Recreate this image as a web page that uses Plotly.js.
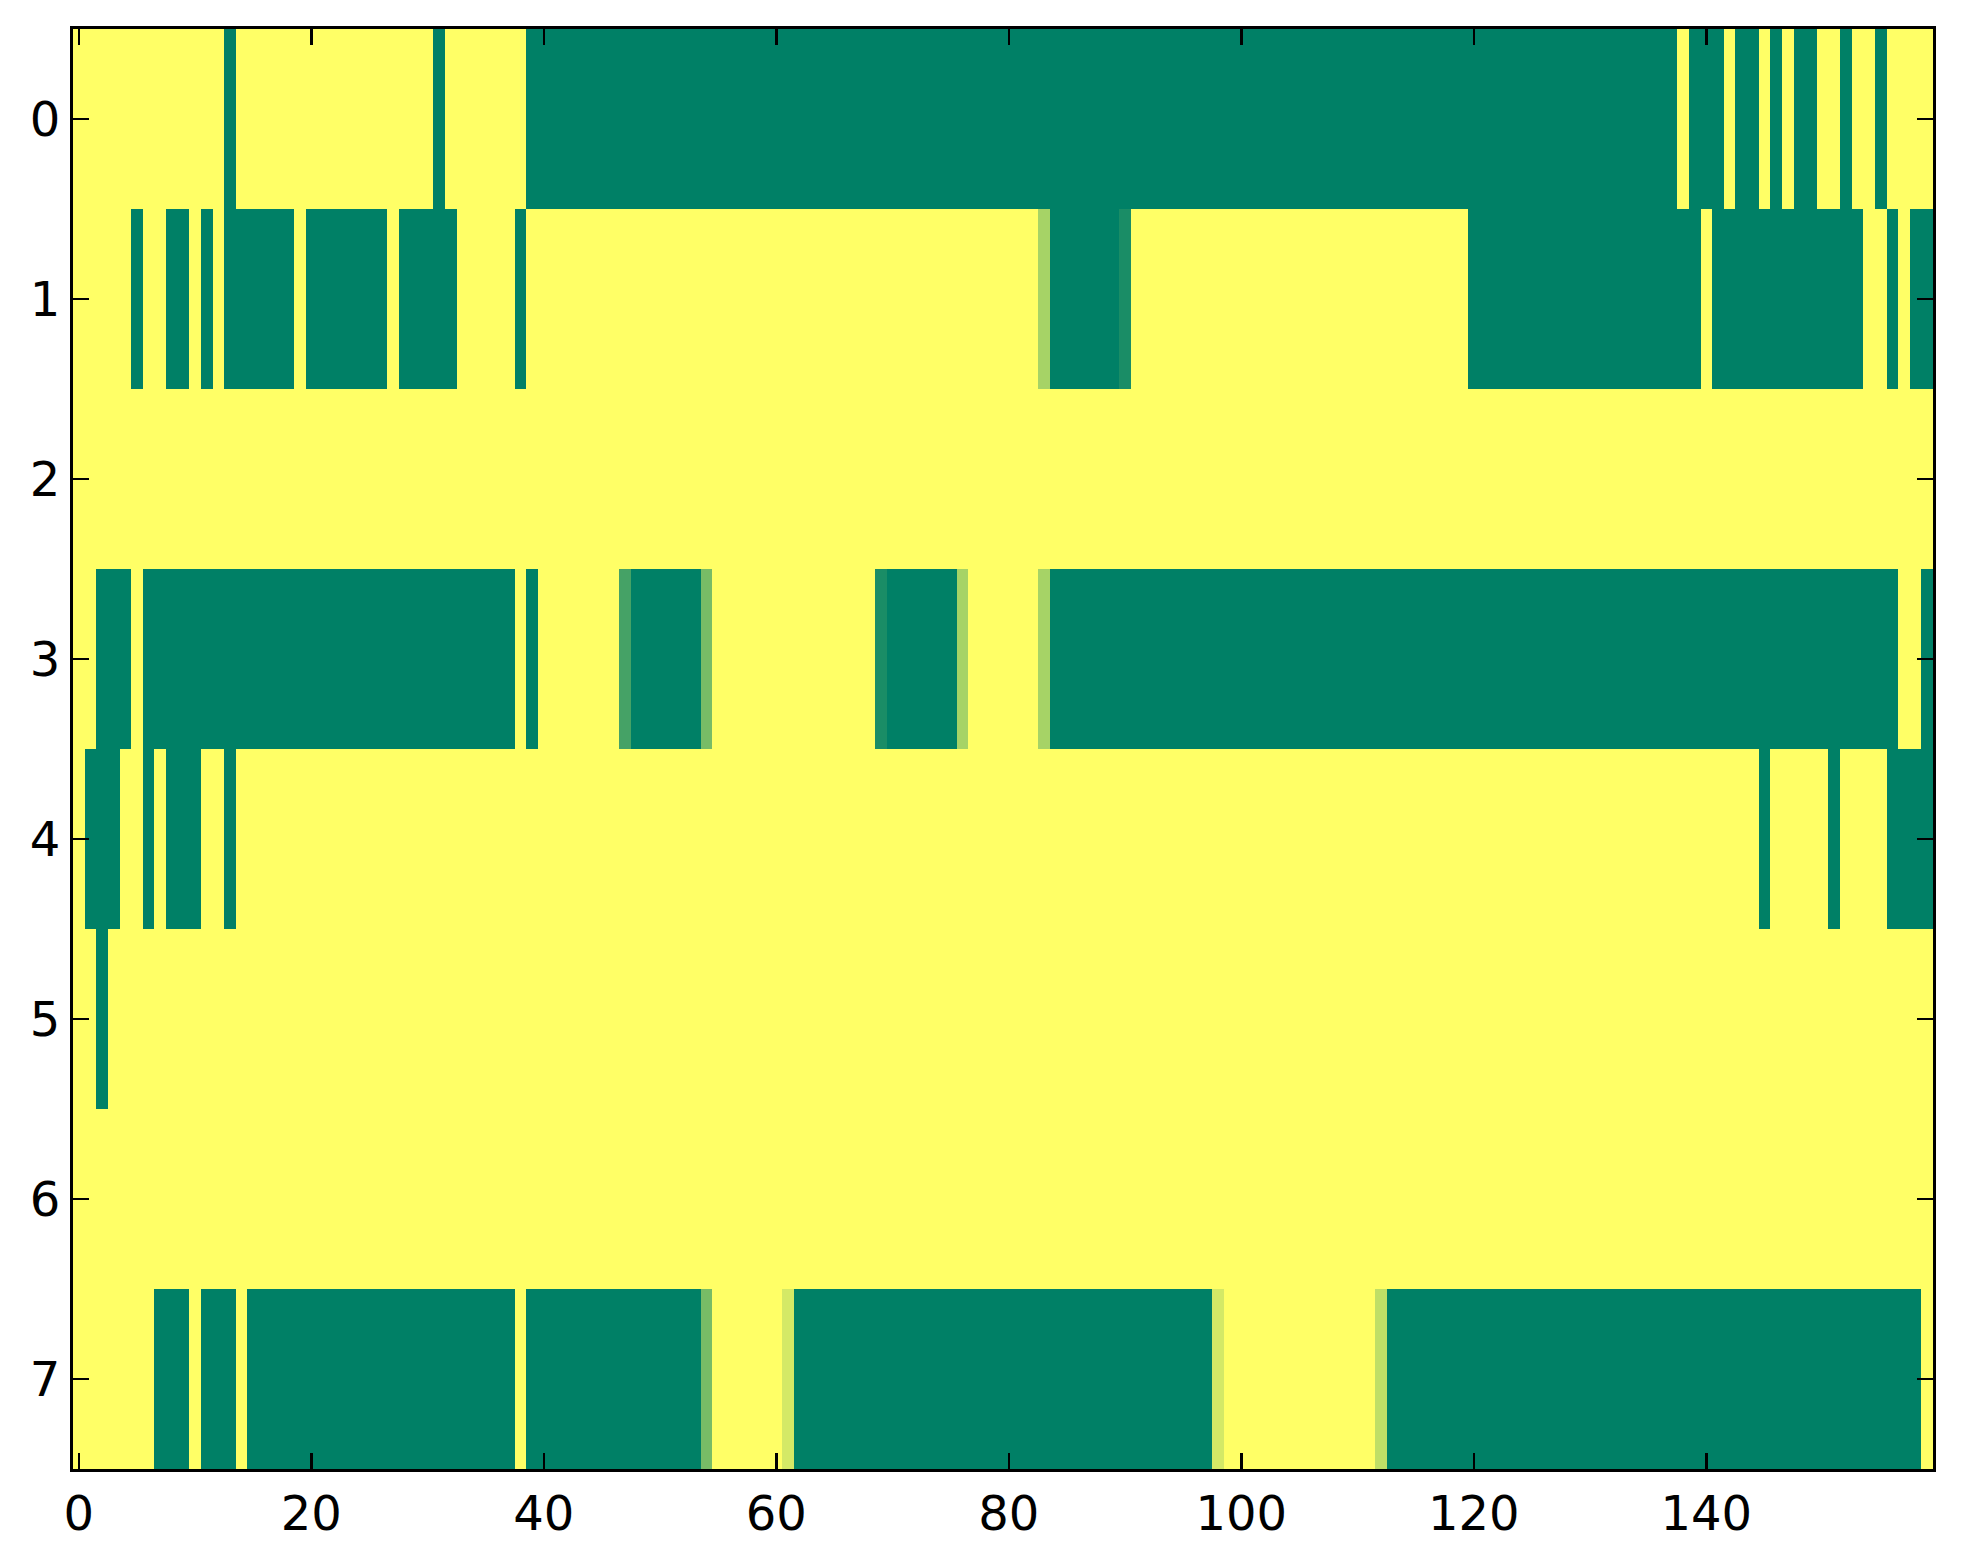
<!DOCTYPE html>
<html>
<head>
<meta charset="utf-8">
<script src="https://cdn.plot.ly/plotly-3.0.1.min.js"></script>
<style>
html,body{margin:0;padding:0;background:#fff;}
#chart{width:1963px;height:1564px;}
</style>
</head>
<body>
<div id="chart"></div>
<script>
// Row labels (y) and x tick labels
var rowLabels = [0, 1, 2, 3, 4, 5, 6, 7];
var xTickVals = [0, 20, 40, 60, 80, 100, 120, 140];

// Values per row (0 = green, 1 = yellow), 160 columns each
var row0 = [
  1,1,1,1,1,1,1,1,1,1, 1,1,1,0,1,1,1,1,1,1, 1,1,1,1,1,1,1,1,1,1, 1,0,1,1,1,1,1,1,1,0,
  0,0,0,0,0,0,0,0,0,0, 0,0,0,0,0,0,0,0,0,0, 0,0,0,0,0,0,0,0,0,0, 0,0,0,0,0,0,0,0,0,0,
  0,0,0,0,0,0,0,0,0,0, 0,0,0,0,0,0,0,0,0,0, 0,0,0,0,0,0,0,0,0,0, 0,0,0,0,0,0,0,0,0,0,
  0,0,0,0,0,0,0,0,0,0, 0,0,0,0,0,0,0,0,1,0, 0,0,1,0,0,1,0,1,0,0, 1,1,0,1,1,0,1,1,1,1
];
var row1 = [
  1,1,1,1,1,0,1,1,0,0, 1,0,1,0,0,0,0,0,0,1, 0,0,0,0,0,0,0,1,0,0, 0,0,0,1,1,1,1,1,0,1,
  1,1,1,1,1,1,1,1,1,1, 1,1,1,1,1,1,1,1,1,1, 1,1,1,1,1,1,1,1,1,1, 1,1,1,1,1,1,1,1,1,1,
  1,1,1,0.65,0,0,0,0,0,0, 0.1,1,1,1,1,1,1,1,1,1, 1,1,1,1,1,1,1,1,1,1, 1,1,1,1,1,1,1,1,1,1,
  0,0,0,0,0,0,0,0,0,0, 0,0,0,0,0,0,0,0,0,0, 1,0,0,0,0,0,0,0,0,0, 0,0,0,0,1,1,0,1,0,0
];
var row2 = [
  1,1,1,1,1,1,1,1,1,1, 1,1,1,1,1,1,1,1,1,1, 1,1,1,1,1,1,1,1,1,1, 1,1,1,1,1,1,1,1,1,1,
  1,1,1,1,1,1,1,1,1,1, 1,1,1,1,1,1,1,1,1,1, 1,1,1,1,1,1,1,1,1,1, 1,1,1,1,1,1,1,1,1,1,
  1,1,1,1,1,1,1,1,1,1, 1,1,1,1,1,1,1,1,1,1, 1,1,1,1,1,1,1,1,1,1, 1,1,1,1,1,1,1,1,1,1,
  1,1,1,1,1,1,1,1,1,1, 1,1,1,1,1,1,1,1,1,1, 1,1,1,1,1,1,1,1,1,1, 1,1,1,1,1,1,1,1,1,1
];
var row3 = [
  1,1,0,0,0,1,0,0,0,0, 0,0,0,0,0,0,0,0,0,0, 0,0,0,0,0,0,0,0,0,0, 0,0,0,0,0,0,0,0,1,0,
  1,1,1,1,1,1,1,0.27,0,0, 0,0,0,0,0.47,1,1,1,1,1, 1,1,1,1,1,1,1,1,1,0.1, 0,0,0,0,0,0,0.65,1,1,1,
  1,1,1,0.65,0,0,0,0,0,0, 0,0,0,0,0,0,0,0,0,0, 0,0,0,0,0,0,0,0,0,0, 0,0,0,0,0,0,0,0,0,0,
  0,0,0,0,0,0,0,0,0,0, 0,0,0,0,0,0,0,0,0,0, 0,0,0,0,0,0,0,0,0,0, 0,0,0,0,0,0,0,1,1,0
];
var row4 = [
  1,0,0,0,1,1,0,1,0,0, 0,1,1,0,1,1,1,1,1,1, 1,1,1,1,1,1,1,1,1,1, 1,1,1,1,1,1,1,1,1,1,
  1,1,1,1,1,1,1,1,1,1, 1,1,1,1,1,1,1,1,1,1, 1,1,1,1,1,1,1,1,1,1, 1,1,1,1,1,1,1,1,1,1,
  1,1,1,1,1,1,1,1,1,1, 1,1,1,1,1,1,1,1,1,1, 1,1,1,1,1,1,1,1,1,1, 1,1,1,1,1,1,1,1,1,1,
  1,1,1,1,1,1,1,1,1,1, 1,1,1,1,1,1,1,1,1,1, 1,1,1,1,1,0,1,1,1,1, 1,0,1,1,1,1,0,0,0,0
];
var row5 = [
  1,1,0,1,1,1,1,1,1,1, 1,1,1,1,1,1,1,1,1,1, 1,1,1,1,1,1,1,1,1,1, 1,1,1,1,1,1,1,1,1,1,
  1,1,1,1,1,1,1,1,1,1, 1,1,1,1,1,1,1,1,1,1, 1,1,1,1,1,1,1,1,1,1, 1,1,1,1,1,1,1,1,1,1,
  1,1,1,1,1,1,1,1,1,1, 1,1,1,1,1,1,1,1,1,1, 1,1,1,1,1,1,1,1,1,1, 1,1,1,1,1,1,1,1,1,1,
  1,1,1,1,1,1,1,1,1,1, 1,1,1,1,1,1,1,1,1,1, 1,1,1,1,1,1,1,1,1,1, 1,1,1,1,1,1,1,1,1,1
];
var row6 = [
  1,1,1,1,1,1,1,1,1,1, 1,1,1,1,1,1,1,1,1,1, 1,1,1,1,1,1,1,1,1,1, 1,1,1,1,1,1,1,1,1,1,
  1,1,1,1,1,1,1,1,1,1, 1,1,1,1,1,1,1,1,1,1, 1,1,1,1,1,1,1,1,1,1, 1,1,1,1,1,1,1,1,1,1,
  1,1,1,1,1,1,1,1,1,1, 1,1,1,1,1,1,1,1,1,1, 1,1,1,1,1,1,1,1,1,1, 1,1,1,1,1,1,1,1,1,1,
  1,1,1,1,1,1,1,1,1,1, 1,1,1,1,1,1,1,1,1,1, 1,1,1,1,1,1,1,1,1,1, 1,1,1,1,1,1,1,1,1,1
];
var row7 = [
  1,1,1,1,1,1,1,0,0,0, 1,0,0,0,1,0,0,0,0,0, 0,0,0,0,0,0,0,0,0,0, 0,0,0,0,0,0,0,0,1,0,
  0,0,0,0,0,0,0,0,0,0, 0,0,0,0,0.47,1,1,1,1,1, 1,0.83,0,0,0,0,0,0,0,0, 0,0,0,0,0,0,0,0,0,0,
  0,0,0,0,0,0,0,0,0,0, 0,0,0,0,0,0,0,0,0.83,1, 1,1,1,1,1,1,1,1,1,1, 1,1,0.75,0,0,0,0,0,0,0,
  0,0,0,0,0,0,0,0,0,0, 0,0,0,0,0,0,0,0,0,0, 0,0,0,0,0,0,0,0,0,0, 0,0,0,0,0,0,0,0,0,1
];

var zRows = [row0, row1, row2, row3, row4, row5, row6, row7];

var trace = {
  type: 'heatmap',
  z: zRows,
  y: rowLabels,
  zmin: 0,
  zmax: 1,
  colorscale: [[0, '#008066'], [1, '#FFFF66']],
  showscale: false,
  zsmooth: false,
  hoverinfo: 'skip'
};

var axisCommon = {
  showline: true,
  linecolor: '#000',
  linewidth: 3,
  mirror: 'ticks',
  ticks: 'inside',
  ticklen: 16,
  tickwidth: 2.5,
  tickcolor: '#000',
  showgrid: false,
  zeroline: false,
  tickfont: {family: 'DejaVu Sans', size: 48, color: '#000'}
};

var layout = {
  width: 1963,
  height: 1564,
  margin: {l: 73, r: 30, t: 29, b: 95, pad: 0},
  paper_bgcolor: '#fff',
  plot_bgcolor: '#fff',
  font: {family: 'DejaVu Sans', size: 48, color: '#000'},
  xaxis: Object.assign({}, axisCommon, {
    range: [-0.5, 159.5],
    tickmode: 'array',
    tickvals: xTickVals,
    ticktext: xTickVals.map(String)
  }),
  yaxis: Object.assign({}, axisCommon, {
    range: [7.5, -0.5],
    tickmode: 'array',
    tickvals: rowLabels,
    ticktext: rowLabels.map(String)
  })
};

Plotly.newPlot('chart', [trace], layout, {staticPlot: true, displayModeBar: false});
</script>
</body>
</html>
